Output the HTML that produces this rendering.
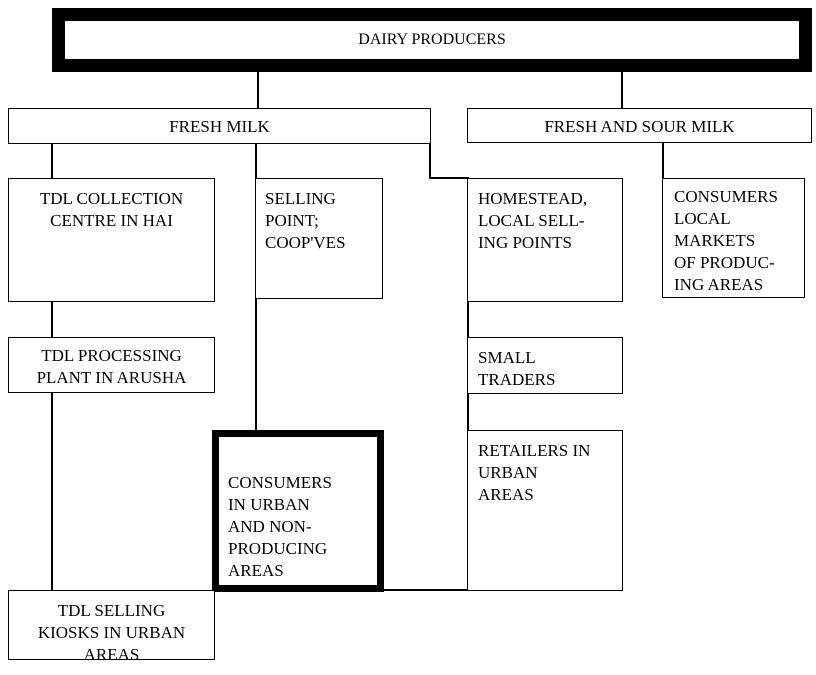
<!DOCTYPE html>
<html><head><meta charset="utf-8"><style>
body{margin:0;background:#fff;width:816px;height:675px;position:relative;overflow:hidden;font-family:"Liberation Serif",serif;font-size:17px;color:#000}
.b{position:absolute;border:1.5px solid #000;box-sizing:border-box;background:#fff;line-height:22px;white-space:nowrap}
.v{position:absolute;width:1.5px;background:#000}
.h{position:absolute;height:1.5px;background:#000}
.c{text-align:center}
</style></head><body>
<div class="v" style="left:257px;top:70px;height:40px"></div>
<div class="v" style="left:621px;top:70px;height:40px"></div>
<div class="v" style="left:51px;top:142px;height:37px"></div>
<div class="v" style="left:255px;top:142px;height:37px"></div>
<div class="v" style="left:429px;top:142px;height:37px"></div>
<div class="h" style="left:429px;top:177px;width:40px"></div>
<div class="v" style="left:662px;top:141px;height:38px"></div>
<div class="v" style="left:51px;top:300px;height:38px"></div>
<div class="v" style="left:255px;top:297px;height:135px"></div>
<div class="v" style="left:467px;top:300px;height:38px"></div>
<div class="v" style="left:51px;top:391px;height:200px"></div>
<div class="v" style="left:467px;top:392px;height:40px"></div>
<div class="h" style="left:380px;top:589px;width:88px"></div>

<div class="b c" style="left:52px;top:8px;width:760px;height:64px;border-width:13px;line-height:38px;font-size:16px">DAIRY PRODUCERS</div>
<div class="b c" style="left:8px;top:108px;width:423px;height:36px;line-height:36px">FRESH MILK</div>
<div class="b c" style="left:467px;top:108px;width:345px;height:35px;line-height:36px">FRESH AND SOUR MILK</div>
<div class="b c" style="left:8px;top:178px;width:207px;height:124px;padding-top:9px">TDL COLLECTION<br>CENTRE IN HAI</div>
<div class="b" style="left:255px;top:178px;width:128px;height:121px;padding:9px 0 0 9px">SELLING<br>POINT;<br>COOP'VES</div>
<div class="b" style="left:467px;top:178px;width:156px;height:124px;padding:9px 0 0 10px">HOMESTEAD,<br>LOCAL SELL-<br>ING POINTS</div>
<div class="b" style="left:662px;top:178px;width:143px;height:120px;padding:7px 0 0 11px">CONSUMERS<br>LOCAL<br>MARKETS<br>OF PRODUC-<br>ING AREAS</div>
<div class="b c" style="left:8px;top:337px;width:207px;height:56px;padding-top:7px">TDL PROCESSING<br>PLANT IN ARUSHA</div>
<div class="b" style="left:467px;top:337px;width:156px;height:57px;padding:9px 0 0 10px">SMALL<br>TRADERS</div>
<div class="b" style="left:212px;top:430px;width:172px;height:162px;border-width:7px;padding:35px 0 0 9px">CONSUMERS<br>IN URBAN<br>AND NON-<br>PRODUCING<br>AREAS</div>
<div class="b" style="left:467px;top:430px;width:156px;height:161px;padding:9px 0 0 10px">RETAILERS IN<br>URBAN<br>AREAS</div>
<div class="b c" style="left:8px;top:590px;width:207px;height:70px;padding-top:9px">TDL SELLING<br>KIOSKS IN URBAN<br>AREAS</div>
</body></html>
